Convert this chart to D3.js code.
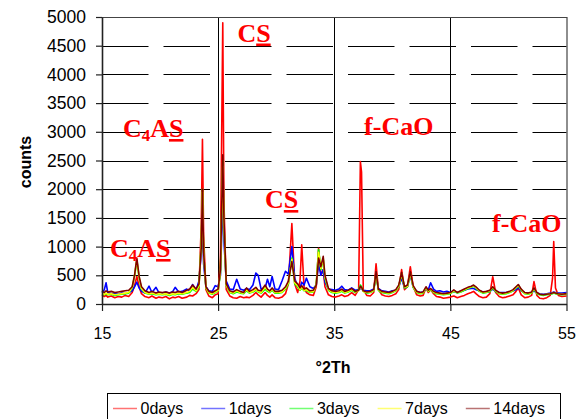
<!DOCTYPE html>
<meta charset="utf-8">
<script src="https://d3js.org/d3.v7.min.js"></script>
<style>
  body { margin: 0; background: #fff; }
  svg { display: block; font-family: "Liberation Sans", Arial, sans-serif; }
</style>
<body>
<div id="my_dataviz"></div>
<script>

// 2-theta positions shared by every pattern
var twoTheta = [
  15.0, 15.2, 15.35, 15.5, 15.8, 16.1, 16.4, 16.7, 17.0, 17.3,
  17.6, 17.8, 18.0, 18.2, 18.4, 18.7, 19.05, 19.3, 19.65, 19.9,
  20.2, 20.5, 20.8, 21.1, 21.3, 21.6, 21.9, 22.3, 22.55, 22.8,
  23.1, 23.35, 23.55, 23.65, 23.75, 23.95, 24.2, 24.5, 24.75, 25.0,
  25.2, 25.4, 25.5, 25.7, 26.0, 26.3, 26.6, 26.9, 27.2, 27.45,
  27.7, 28.0, 28.25, 28.45, 28.7, 29.05, 29.25, 29.45, 29.65, 29.9,
  30.2, 30.5, 30.8, 31.05, 31.35, 31.6, 31.85, 32.05, 32.2, 32.4,
  32.6, 32.9, 33.2, 33.45, 33.65, 33.85, 34.05, 34.2, 34.5, 34.8,
  35.1, 35.4, 35.65, 35.9, 36.2, 36.5, 36.8, 37.1, 37.25, 37.35,
  37.5, 37.8, 38.1, 38.4, 38.6, 38.8, 39.1, 39.4, 39.7, 40.0,
  40.3, 40.55, 40.8, 41.05, 41.3, 41.55, 41.8, 42.1, 42.4, 42.65,
  42.9, 43.1, 43.3, 43.55, 43.8, 44.1, 44.4, 44.7, 45.0, 45.3,
  45.6, 45.9, 46.2, 46.5, 46.8, 47.0, 47.2, 47.5, 47.8, 48.1,
  48.4, 48.65, 48.9, 49.2, 49.5, 49.8, 50.1, 50.4, 50.65, 50.85,
  51.1, 51.4, 51.7, 52.0, 52.2, 52.45, 52.7, 53.0, 53.3, 53.6,
  53.8, 53.9, 54.05, 54.3, 54.6, 55.0
];

var days0 = [
  160, 130, 150, 120, 140, 110, 130, 120, 150, 130,
  200, 320, 480, 300, 180, 130, 110, 140, 100, 120,
  110, 130, 90, 120, 110, 130, 100, 120, 150, 140,
  180, 250, 1400, 2870, 1200, 250, 140, 110, 160, 180,
  800, 4900, 1800, 250, 140, 110, 100, 130, 110, 120,
  110, 150, 200, 160, 120, 200, 150, 120, 160, 110,
  100, 120, 180, 350, 1400, 350, 200, 400, 1030, 300,
  200, 160, 150, 300, 970, 500, 600, 300, 160, 130,
  120, 140, 160, 130, 150, 200, 150, 250, 2480, 2300,
  250, 150, 140, 200, 700, 250, 160, 140, 130, 150,
  180, 250, 600, 250, 300, 650, 300, 160, 140, 150,
  280, 200, 250, 180, 130, 120, 100, 110, 120, 140,
  110, 130, 150, 180, 200, 220, 180, 130, 110, 120,
  180, 475, 200, 130, 110, 120, 140, 160, 220, 280,
  160, 110, 120, 150, 390, 150, 100, 90, 110, 150,
  450, 1090, 280, 150, 130, 140
];

var days1 = [
  200, 250, 370, 200, 180, 190, 170, 190, 180, 200,
  230, 300, 380, 280, 220, 190, 310, 200, 290, 200,
  190, 210, 190, 220, 290, 210, 220, 260, 230, 340,
  240, 400, 900, 1300, 700, 300, 230, 220, 320, 300,
  500, 1800, 1100, 400, 260, 250, 430, 260, 240, 270,
  250, 330, 540, 500, 260, 280, 430, 300, 480, 260,
  250, 400, 570, 520, 1000, 450, 300, 280, 380, 330,
  450, 300, 270, 330, 700, 500, 600, 380, 260, 250,
  240, 260, 310, 250, 240, 280, 240, 250, 270, 260,
  240, 230, 230, 260, 500, 270, 230, 220, 210, 230,
  240, 300, 450, 280, 300, 500, 290, 220, 200, 210,
  260, 250, 370, 260, 220, 230, 210, 220, 200, 220,
  210, 220, 240, 260, 270, 270, 250, 230, 210, 210,
  220, 260, 220, 200, 200, 200, 210, 230, 250, 280,
  230, 200, 190, 200, 230, 190, 180, 170, 180, 190,
  200, 210, 200, 190, 190, 200
];

var days3 = [
  170, 160, 180, 160, 170, 150, 160, 170, 180, 190,
  280, 480, 760, 450, 260, 190, 170, 180, 160, 170,
  160, 170, 150, 170, 160, 180, 170, 190, 200, 260,
  220, 300, 1100, 2000, 900, 280, 190, 170, 200, 230,
  550, 2500, 1400, 320, 200, 180, 210, 190, 180, 230,
  190, 210, 240, 210, 190, 260, 220, 200, 240, 190,
  190, 200, 260, 350, 800, 350, 300, 240, 280, 230,
  240, 200, 210, 350, 950, 600, 780, 450, 240, 200,
  190, 200, 220, 190, 210, 240, 200, 250, 330, 300,
  220, 190, 200, 230, 520, 240, 200, 190, 180, 200,
  230, 300, 520, 280, 300, 530, 290, 200, 180, 190,
  280, 220, 250, 200, 180, 170, 160, 170, 180, 220,
  190, 210, 240, 270, 290, 310, 280, 220, 190, 200,
  220, 280, 220, 180, 170, 180, 200, 230, 280, 320,
  240, 180, 170, 190, 260, 180, 160, 150, 160, 170,
  180, 190, 180, 170, 160, 170
];

var days7 = [
  180, 170, 190, 170, 180, 160, 170, 180, 190, 200,
  290, 490, 780, 460, 270, 200, 180, 190, 170, 180,
  170, 180, 160, 180, 170, 190, 180, 200, 220, 290,
  230, 320, 1050, 1950, 880, 290, 200, 180, 210, 240,
  560, 2400, 1400, 330, 210, 190, 230, 200, 190, 250,
  200, 220, 260, 220, 200, 290, 240, 210, 260, 200,
  200, 210, 280, 370, 780, 370, 320, 250, 300, 240,
  250, 210, 220, 340, 900, 620, 800, 470, 250, 210,
  200, 210, 240, 200, 220, 250, 210, 230, 300, 280,
  220, 200, 210, 240, 540, 250, 210, 200, 190, 210,
  240, 310, 530, 290, 310, 540, 300, 210, 190, 200,
  290, 230, 260, 210, 190, 180, 170, 180, 190, 230,
  200, 220, 250, 280, 300, 320, 290, 230, 200, 210,
  230, 290, 230, 190, 180, 190, 210, 240, 290, 330,
  250, 190, 180, 200, 270, 190, 170, 160, 170, 180,
  190, 200, 190, 180, 170, 180
];

var days14 = [
  220, 200, 230, 210, 220, 200, 210, 220, 230, 240,
  300, 500, 800, 480, 300, 230, 200, 220, 190, 210,
  200, 210, 190, 210, 200, 220, 200, 240, 260, 330,
  260, 350, 1000, 2000, 900, 300, 220, 200, 230, 260,
  600, 2600, 1500, 350, 230, 210, 250, 220, 200, 280,
  220, 250, 290, 240, 230, 330, 260, 230, 280, 220,
  220, 240, 300, 400, 740, 400, 350, 280, 320, 260,
  280, 230, 240, 330, 800, 650, 830, 500, 270, 230,
  220, 230, 260, 220, 240, 270, 220, 240, 310, 290,
  230, 210, 220, 250, 560, 260, 220, 210, 200, 220,
  250, 330, 550, 300, 330, 560, 320, 220, 200, 210,
  300, 240, 270, 220, 200, 190, 180, 190, 200, 245,
  200, 230, 260, 290, 310, 330, 300, 240, 210, 220,
  240, 300, 240, 200, 190, 200, 220, 250, 300, 340,
  260, 200, 190, 210, 280, 200, 170, 160, 170, 180,
  190, 200, 190, 180, 170, 180
];

var seriesNames = ["0days", "1days", "3days", "7days", "14days"];
var seriesColors = ["#ff0000", "#0000ff", "#00ff00", "#ffff00", "#800000"];
var seriesValues = [days0, days1, days3, days7, days14];

var xTicks = [15, 25, 35, 45, 55];
var yTicks = [0, 500, 1000, 1500, 2000, 2500, 3000, 3500, 4000, 4500, 5000];

// phase labels: [2Th, counts, main, subscript, rest (last letter underlined)]
var labels = [
  [26.66, 4573, "C", "", "S"],
  [16.8, 2909, "C", "4", "AS"],
  [37.57, 2944, "f-CaO", "", ""],
  [29.04, 1672, "C", "", "S"],
  [48.59, 1254, "f-CaO", "", ""],
  [15.69, 819, "C", "4", "AS"]
];

var W = 583, H = 419;
var plotL = 102, plotR = 566.5, plotT = 17, plotB = 304;

var svg = d3.select("#my_dataviz")
  .append("svg")
  .attr("width", W)
  .attr("height", H);

var x = d3.scaleLinear().domain([15, 55]).range([plotL, plotR]);
var y = d3.scaleLinear().domain([0, 5000]).range([plotB, plotT]);

// dashed horizontal grid
svg.append("g")
  .selectAll("line")
  .data(yTicks.filter(function (d) { return d > 0 && d < 5000; }))
  .enter()
  .append("line")
  .attr("x1", plotL).attr("x2", plotR)
  .attr("y1", function (d) { return Math.round(y(d)) + 0.5; })
  .attr("y2", function (d) { return Math.round(y(d)) + 0.5; })
  .attr("stroke", "#000")
  .attr("stroke-width", 1)
  .attr("stroke-dasharray", "46.5,15");

// vertical grid
svg.append("g")
  .selectAll("line")
  .data([25, 35, 45])
  .enter()
  .append("line")
  .attr("x1", function (d) { return Math.round(x(d)) + 0.5; })
  .attr("x2", function (d) { return Math.round(x(d)) + 0.5; })
  .attr("y1", plotT).attr("y2", plotB)
  .attr("stroke", "#000")
  .attr("stroke-width", 1);

// plot border top and right
svg.append("path")
  .attr("d", "M" + plotL + "," + (plotT + 0.5) + "H" + (plotR + 0.5) + "V" + plotB)
  .attr("fill", "none")
  .attr("stroke", "#444")
  .attr("stroke-width", 1.2);

// patterns
var line = d3.line()
  .x(function (d) { return x(d[0]); })
  .y(function (d) { return y(d[1]); });

seriesValues.forEach(function (vals, i) {
  var pts = twoTheta.map(function (t, k) { return [t, vals[k]]; });
  svg.append("path")
    .datum(pts)
    .attr("d", line)
    .attr("fill", "none")
    .attr("stroke", seriesColors[i])
    .attr("stroke-width", 1.6)
    .attr("stroke-linejoin", "round");
});

// axes
var yAxis = svg.append("g")
  .attr("transform", "translate(" + plotL + ",0)")
  .call(d3.axisLeft(y).tickValues(yTicks).tickSize(6).tickSizeOuter(0).tickPadding(10));

var xAxis = svg.append("g")
  .attr("transform", "translate(0," + plotB + ")")
  .call(d3.axisBottom(x).tickValues(xTicks).tickSize(7).tickSizeOuter(0).tickPadding(17));

[yAxis, xAxis].forEach(function (a) {
  a.select(".domain").attr("stroke", "#222").attr("stroke-width", 1.6);
  a.selectAll(".tick line").attr("stroke", "#222").attr("stroke-width", 1.2);
  a.selectAll(".tick text")
    .attr("fill", "#000")
    .style("font-family", '"Liberation Sans", Arial, sans-serif')
    .style("font-size", "16px");
});
yAxis.selectAll(".tick text")
  .style("font-size", "17.5px")
  .text(function (d) { return d; });

// axis titles
svg.append("text")
  .attr("x", 333)
  .attr("y", 373)
  .attr("text-anchor", "middle")
  .style("font-weight", "bold")
  .style("font-size", "16px")
  .text("°2Th");

svg.append("text")
  .attr("transform", "translate(31,162) rotate(-90)")
  .attr("text-anchor", "middle")
  .style("font-weight", "bold")
  .style("font-size", "16px")
  .text("counts");

// phase labels
labels.forEach(function (l) {
  var t = svg.append("text")
    .attr("x", x(l[0]))
    .attr("y", y(l[1]))
    .attr("fill", "#ff0000")
    .style("font-family", '"Liberation Serif", "Times New Roman", serif')
    .style("font-weight", "bold")
    .style("font-size", "26px");
  t.append("tspan").text(l[2]);
  if (l[3]) {
    t.append("tspan")
      .attr("dy", 4)
      .style("font-size", "17px")
      .text(l[3]);
  }
  if (l[4]) {
    var rest = l[4];
    var plain = rest.slice(0, -1);
    if (plain) {
      t.append("tspan").attr("dy", l[3] ? -4 : 0).text(plain);
    }
    t.append("tspan")
      .attr("dy", (l[3] && !plain) ? -4 : 0)
      .style("text-decoration", "underline")
      .text(rest.slice(-1));
  }
});

// legend
var lg = svg.append("g");
lg.append("rect")
  .attr("x", 107.5).attr("y", 393.5)
  .attr("width", 453).attr("height", 40)
  .attr("fill", "#fff")
  .attr("stroke", "#000");

seriesNames.forEach(function (name, i) {
  var lx = 113 + i * 88.2;
  lg.append("line")
    .attr("x1", lx).attr("x2", lx + 24)
    .attr("y1", 408.5).attr("y2", 408.5)
    .attr("stroke", seriesColors[i])
    .attr("stroke-opacity", 0.55)
    .attr("stroke-width", 1.5);
  lg.append("text")
    .attr("x", lx + 27.5)
    .attr("y", 414)
    .style("font-size", "16px")
    .text(name);
});

</script>
</body>
